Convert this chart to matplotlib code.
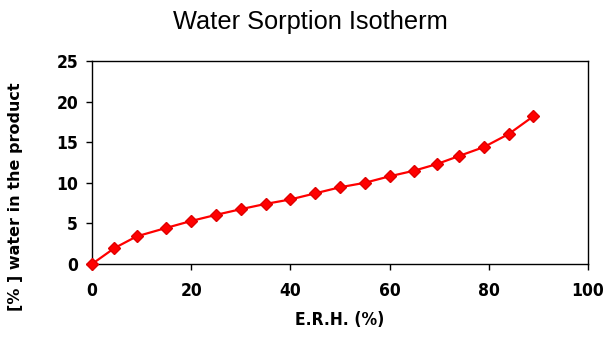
import matplotlib
matplotlib.use("Agg")
import matplotlib.pyplot as plt
from matplotlib.ticker import MultipleLocator

# relative humidity (%) vs moisture content (%)
erh = [0, 4.5, 9, 15, 20, 25, 30, 35, 40, 45, 50, 55, 60, 65, 69.5, 74, 79, 84, 89]
water = [0, 1.95, 3.4, 4.45, 5.3, 6.05, 6.75, 7.4, 7.95, 8.7, 9.45,
         10.0, 10.8, 11.5, 12.3, 13.3, 14.4, 16.0, 18.2]

plain = ["Liberation Sans", "DejaVu Sans"]

fig = plt.figure(figsize=(6.14, 3.39), dpi=100)
ax = fig.add_axes([92 / 614, 1 - 264 / 339, 496 / 614, 203 / 339])

ax.plot(erh, water, color="#ff0000", lw=1.6, marker="D", ms=6,
        mec="#e00000", mfc="#ff0000", clip_on=False, zorder=3)

ax.set_xlim(0, 100)
ax.set_ylim(0, 25)
ax.xaxis.set_major_locator(MultipleLocator(20))
ax.yaxis.set_major_locator(MultipleLocator(5))
ax.tick_params(direction="out", length=4, width=1, color="black")
ax.tick_params(axis="x", pad=9)
ax.tick_params(axis="y", pad=6)
for lab in ax.get_xticklabels() + ax.get_yticklabels():
    lab.set_family("DejaVu Sans")
    lab.set_stretch("condensed")
    lab.set_fontweight("bold")
    lab.set_fontsize(12.5)
for s in ax.spines.values():
    s.set_linewidth(1)
    s.set_color("black")

ax.set_xlabel("E.R.H. (%)", family="DejaVu Sans", stretch="condensed",
              fontweight="bold", fontsize=12.5, labelpad=8)
fig.text(0.025, 0.42, "[% ] water in the product", rotation=90, ha="center", va="center",
         family="DejaVu Sans", fontweight="bold", fontsize=11.5)
fig.text(0.505, 0.935, "Water Sorption Isotherm", ha="center", va="center",
         family=plain, fontsize=18.3)

fig.savefig("out.png", dpi=100)
